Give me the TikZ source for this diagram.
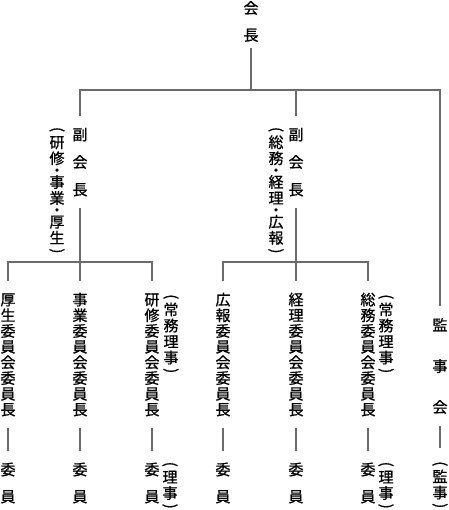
\documentclass[tikz,border=0pt]{standalone}
\usepackage{fontspec}
\usepackage{graphicx}
\newfontfamily\jp[FakeBold=0.8]{Noto Sans CJK JP}

% ---- vertical (tate) text: one cell per character ----
\newcommand{\vk}[1]{\hbox to 1em{\hss\raisebox{.12em}[1em][0pt]{#1}\hss}}
\newcommand{\vpo}{\hbox to 1em{\hss\raisebox{-.03em}[.6em][0pt]{\rotatebox[origin=c]{-90}{(}}\hss}}
\newcommand{\vpc}{\hbox to 1em{\hss\raisebox{-.03em}[.6em][0pt]{\rotatebox[origin=c]{-90}{)}}\hss}}
\newcommand{\vdot}{\hbox to 1em{\hss\raisebox{-.155em}[.45em][0pt]{・}\hss}}
\newdimen\tategap
\def\tatecell#1{\vskip\tategap\relax\if(#1\vpo\else\if)#1\vpc\else\if・#1\vdot\else\vk{#1}\fi\fi\fi}
\def\tatenext#1{\ifx\relax#1\else\tatecell{#1}\expandafter\tatenext\fi}
\newcommand{\tate}[2][0pt]{\vbox{\offinterlineskip\tategap=#1\relax\edef\tatetmp{#2}%
  \vskip-\tategap\expandafter\tatenext\tatetmp\relax}}

\tikzset{
  conn/.style={draw=black!58, line width=1.4pt},
  tatebox/.style={inner sep=0pt, inner ysep=11pt, font=\jp\fontsize{15}{15}\selectfont},
}

\begin{document}
\begin{tikzpicture}[x=1pt,y=-1pt]
\useasboundingbox (0,0) rectangle (448,510);

% ===================== top: president =====================
\node[tatebox, inner ysep=5pt] (pres) at (251,21.5) {\tate[12pt]{会長}};

% ===================== vice presidents and auditors =====================
\node[tatebox] (vpA)  at (80,162)  {\tate[12.5pt]{副会長}};
\node[tatebox] (vpAn) at (57,190)  {\tate[1pt]{(研修・事業・厚生)}};
\node[tatebox] (vpB)  at (296,162) {\tate[12.5pt]{副会長}};
\node[tatebox] (vpBn) at (276,190) {\tate[1pt]{(総務・経理・広報)}};
\node[tatebox] (kansa)  at (440,366)   {\tate[26pt]{監事会}};
\node[tatebox] (kansaM) at (440,484.5) {\tate[1pt]{(監事)}};

\coordinate (busTop) at (0,90);
\coordinate (busA)   at (0,262);

\draw[conn] (pres.south) -- (pres.south |- busTop);
\draw[conn] (vpA.north) -- (vpA.north |- busTop) -- (kansa.north |- busTop) -- (kansa.north);
\draw[conn] (vpB.north |- busTop) -- (vpB.north);
\draw[conn] (kansa.south) -- (kansaM.north);

% ===================== committees =====================
\foreach \i/\x/\name in {1/8/厚生委員会委員長, 2/80/事業委員会委員長, 3/152/研修委員会委員長,
                         4/223/広報委員会委員長, 5/296/経理委員会委員長, 6/368/総務委員会委員長}{
  \node[tatebox] (com\i) at (\x,354.5) {\tate[.7pt]{\name}};
  \node[tatebox] (mem\i) at (\x,483)   {\tate[12pt]{委員}};
  \draw[conn] (com\i.south) -- (mem\i.north);
}
\node[tatebox] (com3n) at (171,333.5) {\tate[1pt]{(常務理事)}};
\node[tatebox] (com6n) at (386,333.5) {\tate[1pt]{(常務理事)}};
\node[tatebox] (mem3n) at (170,485)   {\tate[1pt]{(理事)}};
\node[tatebox] (mem6n) at (386,485)   {\tate[1pt]{(理事)}};

\draw[conn] (vpA.south) -- (vpA.south |- busA);
\draw[conn] (vpB.south) -- (vpB.south |- busA);
\draw[conn] (com1.north) -- (com1.north |- busA) -- (com3.north |- busA) -- (com3.north);
\draw[conn] (com4.north) -- (com4.north |- busA) -- (com6.north |- busA) -- (com6.north);
\foreach \i in {2,5}
  \draw[conn] (com\i.north |- busA) -- (com\i.north);

\end{tikzpicture}
\end{document}
